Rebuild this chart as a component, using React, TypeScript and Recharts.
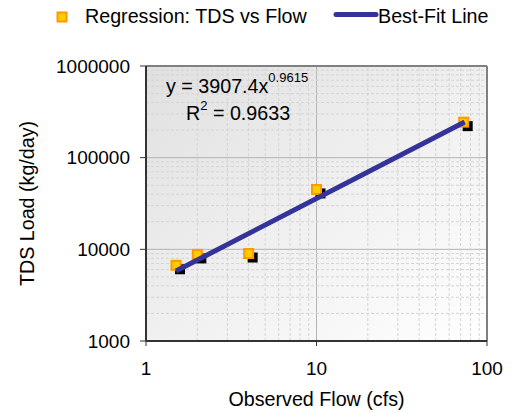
import React from 'react';
import { ScatterChart, Scatter, XAxis, YAxis, CartesianGrid, ReferenceLine, Legend } from 'recharts';

const flowCfs = [1.5, 2.0, 4.0, 10, 73];
const tdsLoad = [6700, 8800, 9000, 45000, 244000];
const fitFlow = [1.5, 74];
const fitLoad = [5800, 245000];
const xTicks = [1, 10, 100];
const yTicks = [1000, 10000, 100000, 1000000];
const xMinor = [2, 3, 4, 5, 6, 7, 8, 9, 20, 30, 40, 50, 60, 70, 80, 90];
const yMinor = [
  2000, 3000, 4000, 5000, 6000, 7000, 8000, 9000,
  20000, 30000, 40000, 50000, 60000, 70000, 80000, 90000,
  200000, 300000, 400000, 500000, 600000, 700000, 800000, 900000,
];
const seriesNames = ['Regression: TDS vs Flow', 'Best-Fit Line'];
const equationText = 'y = 3907.4x';
const equationExp = '0.9615';
const r2Value = '0.9633';

const observed = flowCfs.map((x, i) => ({ x, y: tdsLoad[i] }));
const fitLine = fitFlow.map((x, i) => ({ x, y: fitLoad[i] }));

const FONT = "'Liberation Sans', Arial, sans-serif";
const TXT = 19.7;

const Marker = (props: any) => {
  const { cx, cy } = props;
  if (cx == null || cy == null) return null;
  return (
    <g>
      <rect x={cx - 1} y={cy - 1} width={10} height={10} fill="#000000" />
      <rect x={cx - 4.5} y={cy - 4.5} width={9} height={9} fill="#FFCC00" stroke="#FF9900" strokeWidth={2} />
    </g>
  );
};

const NoShape = () => null;

const LegendContent = () => {
  return (
    <svg width={520} height={32} style={{ display: 'block' }}>
      <rect x={57.5} y={12.5} width={9} height={9} fill="#FFCC00" stroke="#FF9900" strokeWidth={2} />
      <text x={85} y={23} fontSize={TXT} fontFamily={FONT} fill="#000">{seriesNames[0]}</text>
      <line x1={336} y1={14.5} x2={376} y2={14.5} stroke="#333399" strokeWidth={5} strokeLinecap="round" />
      <text x={378} y={23} fontSize={TXT} fontFamily={FONT} fill="#000">{seriesNames[1]}</text>
    </svg>
  );
};

export default function App() {
  return (
    <div style={{ position: 'absolute', left: 0, top: 0, width: 520, height: 413, background: '#fff', fontFamily: FONT }}>
      <svg width={0} height={0} style={{ position: 'absolute' }}>
        <defs>
          <linearGradient id="plotBg" x1="0" y1="0" x2="1" y2="1">
            <stop offset="0%" stopColor="#e0e0e0" />
            <stop offset="100%" stopColor="#ffffff" />
          </linearGradient>
        </defs>
      </svg>
      <ScatterChart width={520} height={413} margin={{ top: 66, right: 33, bottom: 0, left: 0 }}>
        <CartesianGrid fill="url(#plotBg)" fillOpacity={1} stroke="#b4b4b4" strokeWidth={1} />
        {xMinor.map((v) => (
          <ReferenceLine key={'xm' + v} x={v} stroke="#d4d4d4" strokeDasharray="3 2" strokeWidth={1} />
        ))}
        {yMinor.map((v) => (
          <ReferenceLine key={'ym' + v} y={v} stroke="#d4d4d4" strokeDasharray="3 2" strokeWidth={1} />
        ))}
        <ReferenceLine x={100} stroke="#808080" strokeWidth={2} />
        <ReferenceLine y={1000000} stroke="#808080" strokeWidth={2} />
        <XAxis
          type="number"
          dataKey="x"
          scale="log"
          domain={[1, 100]}
          ticks={xTicks}
          allowDataOverflow
          height={72}
          tickSize={5}
          tickMargin={16}
          axisLine={{ stroke: '#333333', strokeWidth: 2 }}
          tickLine={{ stroke: '#333333' }}
          tick={{ fill: '#000', fontSize: 19, fontFamily: FONT }}
          label={{ value: 'Observed Flow (cfs)', position: 'insideBottom', offset: 7, fill: '#000', fontSize: TXT, fontFamily: FONT }}
        />
        <YAxis
          type="number"
          dataKey="y"
          scale="log"
          domain={[1000, 1000000]}
          ticks={yTicks}
          allowDataOverflow
          width={146}
          tickSize={6}
          tickMargin={10}
          axisLine={{ stroke: '#333333', strokeWidth: 2 }}
          tickLine={{ stroke: '#333333' }}
          tick={{ fill: '#000', fontSize: 19, fontFamily: FONT }}
          label={{ value: 'TDS Load (kg/day)', angle: -90, position: 'insideLeft', offset: 27, fill: '#000', fontSize: TXT, fontFamily: FONT, style: { textAnchor: 'middle' } }}
        />
        <Legend
          layout="horizontal"
          verticalAlign="middle"
          align="center"
          width={520}
          wrapperStyle={{ top: 0, left: 0, width: 520, height: 32 }}
          content={<LegendContent />}
        />
        <Scatter name={seriesNames[0]} data={observed} fill="#FFCC00" shape={<Marker />} isAnimationActive={false} />
        <Scatter
          name={seriesNames[1]}
          data={fitLine}
          fill="#333399"
          line={{ stroke: '#333399', strokeWidth: 5 }}
          shape={<NoShape />}
          isAnimationActive={false}
        />
      </ScatterChart>
      <svg width={520} height={413} style={{ position: 'absolute', left: 0, top: 0, pointerEvents: 'none' }}>
        <text x={166} y={93} fontSize={TXT} fontFamily={FONT} fill="#000">
          {equationText}
          <tspan dy={-11} fontSize={13}>{equationExp}</tspan>
        </text>
        <text x={186} y={120} fontSize={TXT} fontFamily={FONT} fill="#000">
          R
          <tspan dy={-10} fontSize={13}>2</tspan>
          <tspan dy={10} fontSize={TXT}>{' = ' + r2Value}</tspan>
        </text>
      </svg>
    </div>
  );
}
